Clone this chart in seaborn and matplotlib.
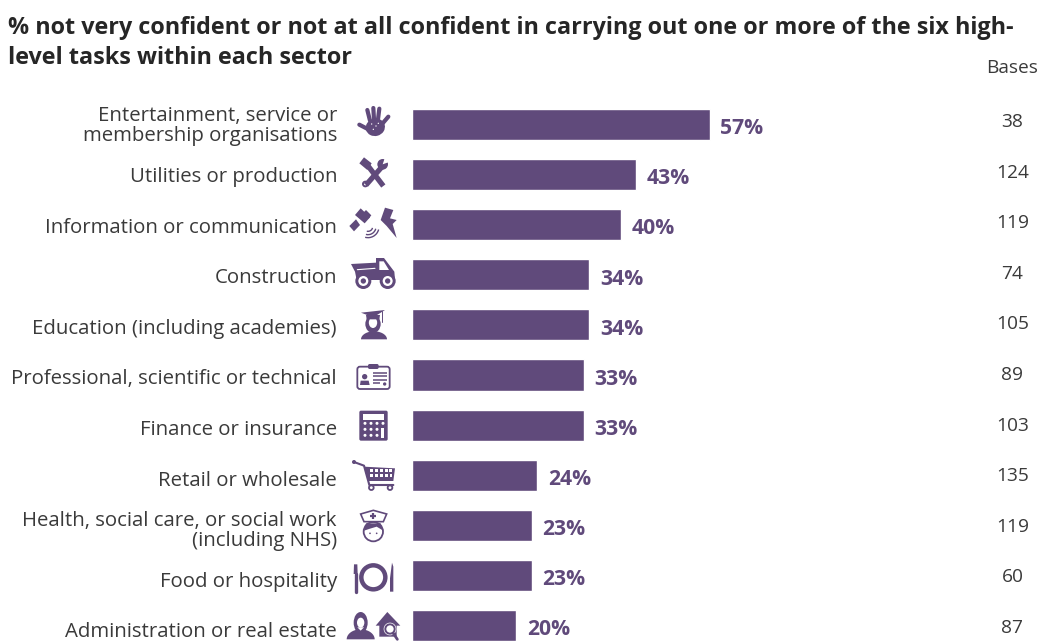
import numpy as np
import pandas as pd
import seaborn as sns
import matplotlib
matplotlib.use("Agg")
import matplotlib.pyplot as plt
from matplotlib.patches import Circle, Ellipse, Polygon, Rectangle, FancyBboxPatch, Arc
from matplotlib.transforms import Affine2D, ScaledTranslation

sectors = [
    "Entertainment, service or\nmembership organisations",
    "Utilities or production",
    "Information or communication",
    "Construction",
    "Education (including academies)",
    "Professional, scientific or technical",
    "Finance or insurance",
    "Retail or wholesale",
    "Health, social care, or social work\n(including NHS)",
    "Food or hospitality",
    "Administration or real estate",
]
percent = [57, 43, 40, 34, 34, 33, 33, 24, 23, 23, 20]
bases = [38, 124, 119, 74, 105, 89, 103, 135, 119, 60, 87]

title_lines = [
    "% not very confident or not at all confident in carrying out one or more of the six high-",
    "level tasks within each sector",
]

PURPLE = "#604A7B"
TEXT = "#3A3A3A"
W, H = 1039, 641

sns.set_style("white")
plt.rcParams["font.family"] = ["Open Sans", "DejaVu Sans"]

fig = plt.figure(figsize=(W / 100, H / 100), dpi=100)

# Bar axes: x scale of 5.22 px per percent from the bar baseline, rows 50.1 px apart
left, right = 412, 934
ax = fig.add_axes([left / W, 0, (right - left) / W, 1])
df = pd.DataFrame({"sector": sectors, "percent": percent})
sns.barplot(data=df, x="percent", y="sector", order=sectors, color=PURPLE,
            saturation=1, width=0.62, ax=ax)
ax.set_xlim(0, 100)
ax.set_ylim((H - 124.5) / 50.1, -124.5 / 50.1)
ax.set_xlabel("")
ax.set_ylabel("")
ax.xaxis.set_visible(False)
sns.despine(ax=ax, left=True, bottom=True)
ax.tick_params(axis="y", length=0, pad=54, labelsize=14.65, labelcolor=TEXT)
for i, lab in enumerate(ax.get_yticklabels()):
    lab.set_linespacing(0.96)
    lab.set_multialignment("right")
    # Row labels sit a little lower further down the list
    shift_px = 0.6 - 0.5 * i
    lab.set_transform(lab.get_transform() + ScaledTranslation(0, shift_px / 100, fig.dpi_scale_trans))

for i, v in enumerate(percent):
    ax.text(v + 2.0, i + 0.085, f"{v}%", color=PURPLE, fontsize=15.2,
            fontweight="bold", va="center", ha="left")

# Overlay in pixel coordinates for the title, base counts and icons
ov = fig.add_axes([0, 0, 1, 1], facecolor="none")
ov.set_xlim(0, W)
ov.set_ylim(H, 0)
ov.axis("off")

ov.text(8, 28, title_lines[0], fontsize=16.87, fontweight="bold", color="#262626", va="center")
ov.text(8, 58, title_lines[1], fontsize=16.87, fontweight="bold", color="#262626", va="center")
ov.text(1012, 68, "Bases", fontsize=13.8, color=TEXT, ha="center", va="center")
for i, b in enumerate(bases):
    ov.text(1012.5, 122 + 50.6 * i, str(b), fontsize=13.8, color=TEXT, ha="center", va="center")


def frame(oy):
    return Affine2D().scale(1 / 3).translate(340, oy) + ov.transData


def add(tr, *patches):
    for p in patches:
        p.set_transform(tr)
        p.set_clip_on(False)
        ov.add_patch(p)


def solid():
    return dict(facecolor=PURPLE, edgecolor="none")


def white():
    return dict(facecolor="white", edgecolor="none")


def stroke(tr, pts, lw, color=PURPLE, cap="round"):
    xs, ys = zip(*pts)
    ov.plot(xs, ys, color=color, lw=lw, transform=tr, solid_capstyle=cap, clip_on=False)


def shoulders(cx, base, w, h):
    """Upper half of an ellipse, used for the busts of the people icons."""
    a = np.linspace(np.pi, 2 * np.pi, 30)
    return Polygon(np.column_stack([cx + w / 2 * np.cos(a), base + h * np.sin(a)]), **solid())


# Hand print
t = frame(100)
add(t, Ellipse((106, 82), 58, 52, angle=-15, **solid()))
for a, b in [((90, 62), (82, 30)), ((102, 58), (100, 24)), ((114, 58), (118, 26)),
             ((128, 70), (145, 50)), ((85, 88), (58, 74))]:
    stroke(t, [a, b], 3.0)
for p in [(95, 72), (108, 78), (100, 88), (115, 70)]:
    add(t, Circle(p, 2.0, **white()))

# Hammer and wrench
stroke(t, [(82, 195), (130, 258)], 3.8, cap="butt")
add(t, Polygon([(58, 190), (72, 172), (95, 190), (82, 210)], **solid()))
stroke(t, [(78, 255), (128, 198)], 3.8, cap="butt")
add(t, Circle((128, 193), 16, **solid()), Polygon([(128, 193), (135, 172), (150, 185)], **white()),
    Circle((76, 252), 10, **solid()), Circle((76, 252), 4, **white()))

# Satellite, signal and lightning bolt
add(t, Polygon([(45, 345), (62, 325), (90, 352), (74, 370)], **solid()),
    Polygon([(28, 378), (48, 358), (60, 375), (42, 394)], **solid()),
    Polygon([(86, 356), (94, 346), (78, 330), (68, 340)], **solid()))
for r in (14, 24, 33):
    add(t, Arc((84, 380), r * 2, r * 2, theta1=15, theta2=105, edgecolor=PURPLE, lw=1.0))
add(t, Polygon([(135, 323), (160, 330), (150, 355), (170, 360), (158, 372), (170, 414),
                (140, 378), (122, 360)], **solid()))

# Dump truck
add(t, Polygon([(33, 492), (108, 488), (108, 474), (132, 474), (163, 515), (165, 538),
                (118, 540), (50, 540), (45, 515)], **solid()),
    Polygon([(118, 484), (131, 484), (147, 510), (118, 510)], **white()))
stroke(t, [(52, 509), (105, 505)], 0.8, color="white")
for cx in (70, 143):
    add(t, Circle((cx, 543), 24, **solid()), Circle((cx, 543), 15, **white()),
        Circle((cx, 543), 8, **solid()))

# Graduate
add(t, Ellipse((99, 672), 46, 54, **solid()),
    shoulders(102, 718, 78, 24),
    Ellipse((99, 668), 25, 32, **white()),
    Polygon([(63, 638), (135, 630), (100, 652)], **solid()),
    Polygon([(78, 645), (120, 645), (118, 658), (80, 658)], **solid()))
stroke(t, [(127, 633), (127, 666)], 0.7)

# ID card
t = frame(370)
add(t, FancyBboxPatch((52, -10), 97, 67, boxstyle="round,pad=0,rounding_size=8",
                      facecolor="white", edgecolor=PURPLE, linewidth=1.3),
    FancyBboxPatch((84, -18), 32, 15, boxstyle="round,pad=0,rounding_size=5", **solid()),
    Circle((74, 20), 8, **solid()),
    Polygon([(60, 45), (62, 32), (86, 32), (89, 45)], **solid()))
for y, x1 in [(10, 142), (19, 142), (29, 142), (40, 120)]:
    stroke(t, [(98, y), (x1, y)], 1.1, cap="butt")
add(t, Circle((134, 42), 5, **solid()))

# Calculator
add(t, FancyBboxPatch((58, 122), 85, 90, boxstyle="round,pad=0,rounding_size=5", **solid()),
    Rectangle((70, 133), 62, 17, **white()))
for y in (160, 178, 196):
    for x in (75, 93, 111):
        add(t, Circle((x, y), 4.5, **white()))
add(t, Circle((129, 160), 4.5, **white()), Rectangle((124, 175), 9, 28, **white()))

# Shopping cart
add(t, Circle((42, 276), 6, **solid()))
stroke(t, [(42, 276), (72, 287), (88, 345), (160, 345)], 1.5)
add(t, Polygon([(72, 290), (165, 295), (160, 333), (84, 333)], **solid()))
for x in (93, 108, 123, 138, 152):
    add(t, Rectangle((x - 4, 298), 9, 9, **white()), Rectangle((x - 3, 312), 8, 9, **white()))
for cx in (94, 150):
    add(t, Circle((cx, 353), 7, facecolor="white", edgecolor=PURPLE, linewidth=1.3))

# Nurse
add(t, Circle((100, 485), 29, facecolor="white", edgecolor=PURPLE, linewidth=1.3),
    Polygon([(72, 482), (78, 460), (122, 460), (130, 482), (110, 470), (90, 476)], **solid()),
    Polygon([(62, 432), (100, 421), (140, 432), (130, 455), (72, 455)],
            facecolor="white", edgecolor=PURPLE, linewidth=1.2))
stroke(t, [(100, 429), (100, 447)], 1.6, cap="butt")
stroke(t, [(91, 438), (109, 438)], 1.6, cap="butt")
add(t, Circle((90, 490), 2.5, **solid()), Circle((110, 490), 2.5, **solid()))

# Plate and cutlery
stroke(t, [(47, 612), (47, 665)], 2.4)
add(t, Polygon([(42, 583), (52, 583), (53, 612), (41, 612)], **solid()))
add(t, Circle((100, 622), 36, facecolor="none", edgecolor=PURPLE, linewidth=3.2))
add(t, Polygon([(150, 625), (156, 578), (160, 590), (160, 665), (150, 665)], **solid()))

# Administrator and house with magnifier
add(t, Ellipse((62, 758), 42, 64, **solid()),
    shoulders(62, 808, 84, 30),
    Ellipse((62, 758), 22, 30, **white()),
    Polygon([(52, 772), (72, 772), (62, 782)], **white()))
add(t, Polygon([(107, 767), (142, 726), (181, 767), (170, 767), (170, 800), (118, 800), (118, 767)],
               **solid()),
    Circle((150, 777), 19, **white()),
    Circle((150, 777), 14, facecolor="white", edgecolor=PURPLE, linewidth=1.4))
stroke(t, [(160, 790), (172, 808)], 2.0)

fig.savefig("out.png", dpi=100)
